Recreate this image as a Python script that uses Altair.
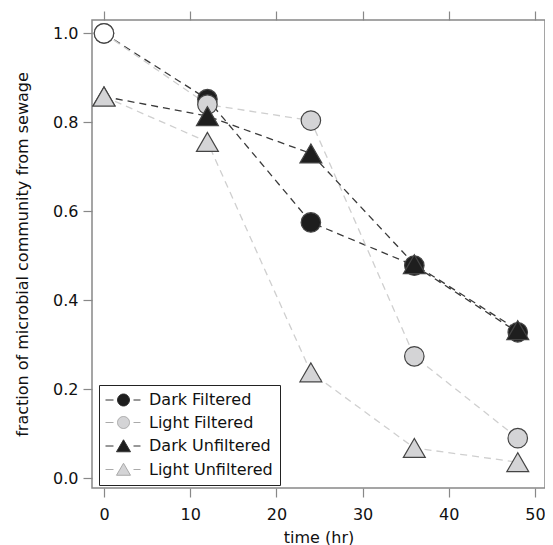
import altair as alt
import pandas as pd

# ---- data ----
series_names = ["Dark Filtered", "Light Filtered", "Dark Unfiltered", "Light Unfiltered"]
times = [0, 12, 24, 36, 48]
dark_filtered = [1.0, 0.852, 0.575, 0.478, 0.328]
light_filtered = [1.0, 0.840, 0.804, 0.274, 0.090]
dark_unfiltered = [0.858, 0.814, 0.730, 0.481, 0.333]
light_unfiltered = [0.858, 0.756, 0.238, 0.068, 0.036]
x_ticks = [0, 10, 20, 30, 40, 50]
y_ticks = [0.0, 0.2, 0.4, 0.6, 0.8, 1.0]

# ---- styles ----
line_colors = ["#3a3a3a", "#cfcfcf", "#3a3a3a", "#cfcfcf"]
fill_keys = series_names + ["Initial"]
fill_colors = ["#1e1e1e", "#d4d4d6", "#1e1e1e", "#d4d4d6", "#ffffff"]
circle_leg = "M-1.133,0L-0.067,0M2.6,0L3.533,0M2.067,0A0.8,0.8,0,1,1,0.467,0A0.8,0.8,0,1,1,2.067,0Z"
tri_leg = "M-1.133,0L-0.067,0M2.6,0L3.533,0M1.267,-0.83L2.2,0.77L0.333,0.77Z"
legend_paths = [circle_leg, circle_leg, tri_leg, tri_leg]
legend_fills = ["#1e1e1e", "#d4d4d6", "#1e1e1e", "#d4d4d6"]
legend_strokes = ["#333333", "#aaaaaa", "#333333", "#aaaaaa"]

rows = []
for name, vals in zip(series_names, [dark_filtered, light_filtered, dark_unfiltered, light_unfiltered]):
    for t, v in zip(times, vals):
        key = "Initial" if (t == 0 and "Unfiltered" not in name) else name
        shape = "triangle" if "Unfiltered" in name else "circle"
        rows.append({"series": name, "time": t, "value": v, "fillkey": key, "kind": shape})
df = pd.DataFrame(rows)

FONT = "DejaVu Sans"
xs = alt.Scale(domain=[-1.39, 51.16], nice=False, zero=False)
ys = alt.Scale(domain=[-0.022, 1.03], nice=False, zero=False)

base = alt.Chart(df)

lines = base.mark_line(strokeDash=[7, 5], strokeWidth=1.3).encode(
    x=alt.X("time:Q", scale=xs,
            axis=alt.Axis(values=x_ticks, title="time (hr)", labelPadding=9, titlePadding=7)),
    y=alt.Y("value:Q", scale=ys,
            axis=alt.Axis(values=y_ticks, format=".1f",
                          title="fraction of microbial community from sewage",
                          labelPadding=5, titlePadding=22)),
    color=alt.Color("series:N", scale=alt.Scale(domain=series_names, range=line_colors), legend=None),
)

circles = base.transform_filter("datum.kind == 'circle'").mark_point(
    filled=True, shape="circle", size=380, stroke="#444444", strokeWidth=1.2, opacity=1
).encode(
    x=alt.X("time:Q", scale=xs, axis=alt.Axis(orient="top", values=x_ticks, labels=False, title=None)),
    y=alt.Y("value:Q", scale=ys, axis=alt.Axis(orient="right", values=y_ticks, labels=False, title=None)),
    fill=alt.Fill("fillkey:N", scale=alt.Scale(domain=fill_keys, range=fill_colors), legend=None),
)

triangles = base.transform_filter("datum.kind == 'triangle'").mark_point(
    filled=True, shape="triangle-up", size=480, stroke="#444444", strokeWidth=1.2, opacity=1
).encode(
    x=alt.X("time:Q", scale=xs, axis=None),
    y=alt.Y("value:Q", scale=ys, axis=None),
    fill=alt.Fill("fillkey:N", scale=alt.Scale(domain=fill_keys, range=fill_colors), legend=None),
)

leg = alt.Legend(title=None, orient="none", legendX=7, legendY=365,
                 strokeColor="#222222", fillColor="white", padding=7,
                 symbolSize=225, symbolStrokeWidth=1, labelFontSize=16, labelFont=FONT,
                 labelColor="#111111", labelOffset=27, rowPadding=6.5, symbolOpacity=1)

legend_layer = base.transform_filter("false").mark_point(filled=True, strokeWidth=1, opacity=1).encode(
    x=alt.X("time:Q", scale=xs, axis=None),
    y=alt.Y("value:Q", scale=ys, axis=None),
    shape=alt.Shape("series:N", scale=alt.Scale(domain=series_names, range=legend_paths), legend=leg),
    fill=alt.Fill("series:N", scale=alt.Scale(domain=series_names, range=legend_fills), legend=leg),
    stroke=alt.Stroke("series:N", scale=alt.Scale(domain=series_names, range=legend_strokes), legend=leg),
)

chart = alt.layer(lines, circles, triangles, legend_layer).resolve_scale(
    fill="independent", shape="independent", stroke="independent", color="independent"
).resolve_axis(x="independent", y="independent").properties(
    width=453, height=468,
    autosize=alt.AutoSizeParams(type="none"),
    padding={"left": 84, "top": 12, "right": 0, "bottom": 57},
).configure_view(stroke="#888888", strokeWidth=1.5).configure_axis(
    domain=False, grid=False, tickColor="#888888", tickWidth=1.2, tickSize=9,
    labelFont=FONT, labelFontSize=16, labelColor="#111111",
    titleFont=FONT, titleFontSize=16, titleFontWeight="normal", titleColor="#111111",
)

chart.save("out.html", embed_options={"renderer": "svg", "actions": False})
